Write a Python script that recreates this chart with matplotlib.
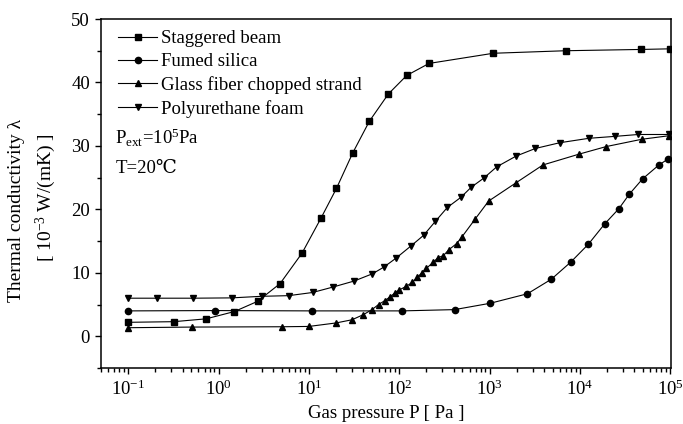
import matplotlib
matplotlib.use("Agg")
import matplotlib.pyplot as plt
from matplotlib.ticker import MultipleLocator, LogLocator, NullFormatter

plt.rcParams["font.family"] = ["Liberation Serif", "DejaVu Serif"]
plt.rcParams["mathtext.fontset"] = "custom"
plt.rcParams["mathtext.rm"] = "Liberation Serif"
plt.rcParams["mathtext.it"] = "Liberation Serif:italic"

# Staggered beam
beam_p = [0.1, 0.32, 0.73, 1.5, 2.7, 4.8, 8.4, 13.6, 20.2, 30.6, 46.8, 76, 121, 214,
          1100, 7000, 47000, 100000]
beam_k = [2.2, 2.3, 2.75, 3.9, 5.5, 8.3, 13.1, 18.6, 23.3, 28.9, 33.9, 38.2, 41.1, 43.0,
          44.6, 45.0, 45.2, 45.3]

# Fumed silica
silica_p = [0.1, 0.91, 10.8, 108, 410, 1016, 2630, 4840, 7940, 12400, 18800, 27000,
            35300, 49400, 75000, 95000]
silica_k = [4.0, 4.05, 4.0, 4.0, 4.2, 5.2, 6.7, 9.0, 11.7, 14.5, 17.7, 20.1, 22.4, 24.8,
            27.0, 27.95]

# Glass fiber chopped strand
glass_p = [0.1, 0.51, 5.0, 10, 20, 30, 40, 50, 59, 69, 79, 89, 100, 119, 140, 158, 179,
           200, 239, 270, 308, 352, 431, 491, 695, 975, 1970, 3900, 9770, 19600, 48600,
           96600]
glass_k = [1.35, 1.45, 1.5, 1.55, 2.1, 2.6, 3.4, 4.2, 5.0, 5.6, 6.2, 6.8, 7.3, 7.85, 8.5,
           9.3, 10.0, 10.7, 11.7, 12.4, 12.7, 13.6, 14.6, 15.6, 18.5, 21.3, 24.2, 27.0,
           28.7, 29.9, 31.05, 31.6]

# Polyurethane foam
foam_p = [0.1, 0.21, 0.52, 1.4, 3.0, 5.97, 11, 18.4, 31.6, 50.6, 67.6, 92, 134, 186,
          251, 341, 482, 628, 859, 1200, 1970, 3220, 5980, 12600, 24300, 44300, 96600]
foam_k = [6.0, 6.0, 6.0, 6.05, 6.3, 6.4, 6.9, 7.75, 8.7, 9.85, 10.9, 12.3, 14.2, 15.9,
          18.1, 20.3, 21.9, 23.5, 24.9, 26.7, 28.4, 29.6, 30.5, 31.2, 31.5, 31.8, 31.8]

fig = plt.figure(figsize=(6.83, 4.24), dpi=100)
ax = fig.add_axes([101 / 683, 1 - 368 / 424, 570 / 683, 349 / 424])

lw = 0.8
ax.plot(beam_p, beam_k, color="black", lw=lw, marker="s", ms=4, label="Staggered beam")
ax.plot(silica_p, silica_k, color="black", lw=lw, marker="o", ms=4.5, label="Fumed silica")
ax.plot(glass_p, glass_k, color="black", lw=lw, marker="^", ms=5,
        label="Glass fiber chopped strand")
ax.plot(foam_p, foam_k, color="black", lw=lw, marker="v", ms=5, label="Polyurethane foam")

ax.set_xscale("log")
ax.set_xlim(0.05, 1.02e5)
ax.set_ylim(-5, 50)
ax.yaxis.set_major_locator(MultipleLocator(10))
ax.yaxis.set_minor_locator(MultipleLocator(5))
ax.xaxis.set_major_locator(LogLocator(base=10, numticks=20))
ax.xaxis.set_minor_locator(LogLocator(base=10, subs=range(2, 10), numticks=20))
ax.xaxis.set_minor_formatter(NullFormatter())
ax.tick_params(which="both", direction="out", top=False, right=False, width=1,
               labelsize=13.5)
ax.tick_params(which="major", length=4.5)
ax.tick_params(which="minor", length=3)
for s in ax.spines.values():
    s.set_linewidth(1.1)

ax.legend(loc="upper left", frameon=False, fontsize=13.5, handlelength=2.07,
          handletextpad=0.2, labelspacing=0.31, borderaxespad=0.2,
          bbox_to_anchor=(0.0105, 1.0))

ax.text(0.025, 0.659, r"P$_{\mathrm{ext}}$=10$^{5}$Pa", transform=ax.transAxes,
        fontsize=13.5, va="center")
ax.text(0.025, 0.573, "T=20℃", transform=ax.transAxes, fontsize=13.5, va="center")

ax.set_xlabel("Gas pressure P [ Pa ]", fontsize=13.5, labelpad=5)
fig.text(17 / 683, 1 - 210 / 424, r"Thermal conductivity λ", rotation=90,
         ha="center", va="center", fontsize=14)
fig.text(46 / 683, 1 - 198 / 424, r"[ 10$^{-3}$ W/(mK) ]", rotation=90,
         ha="center", va="center", fontsize=14)

fig.savefig("out.png", dpi=100)
